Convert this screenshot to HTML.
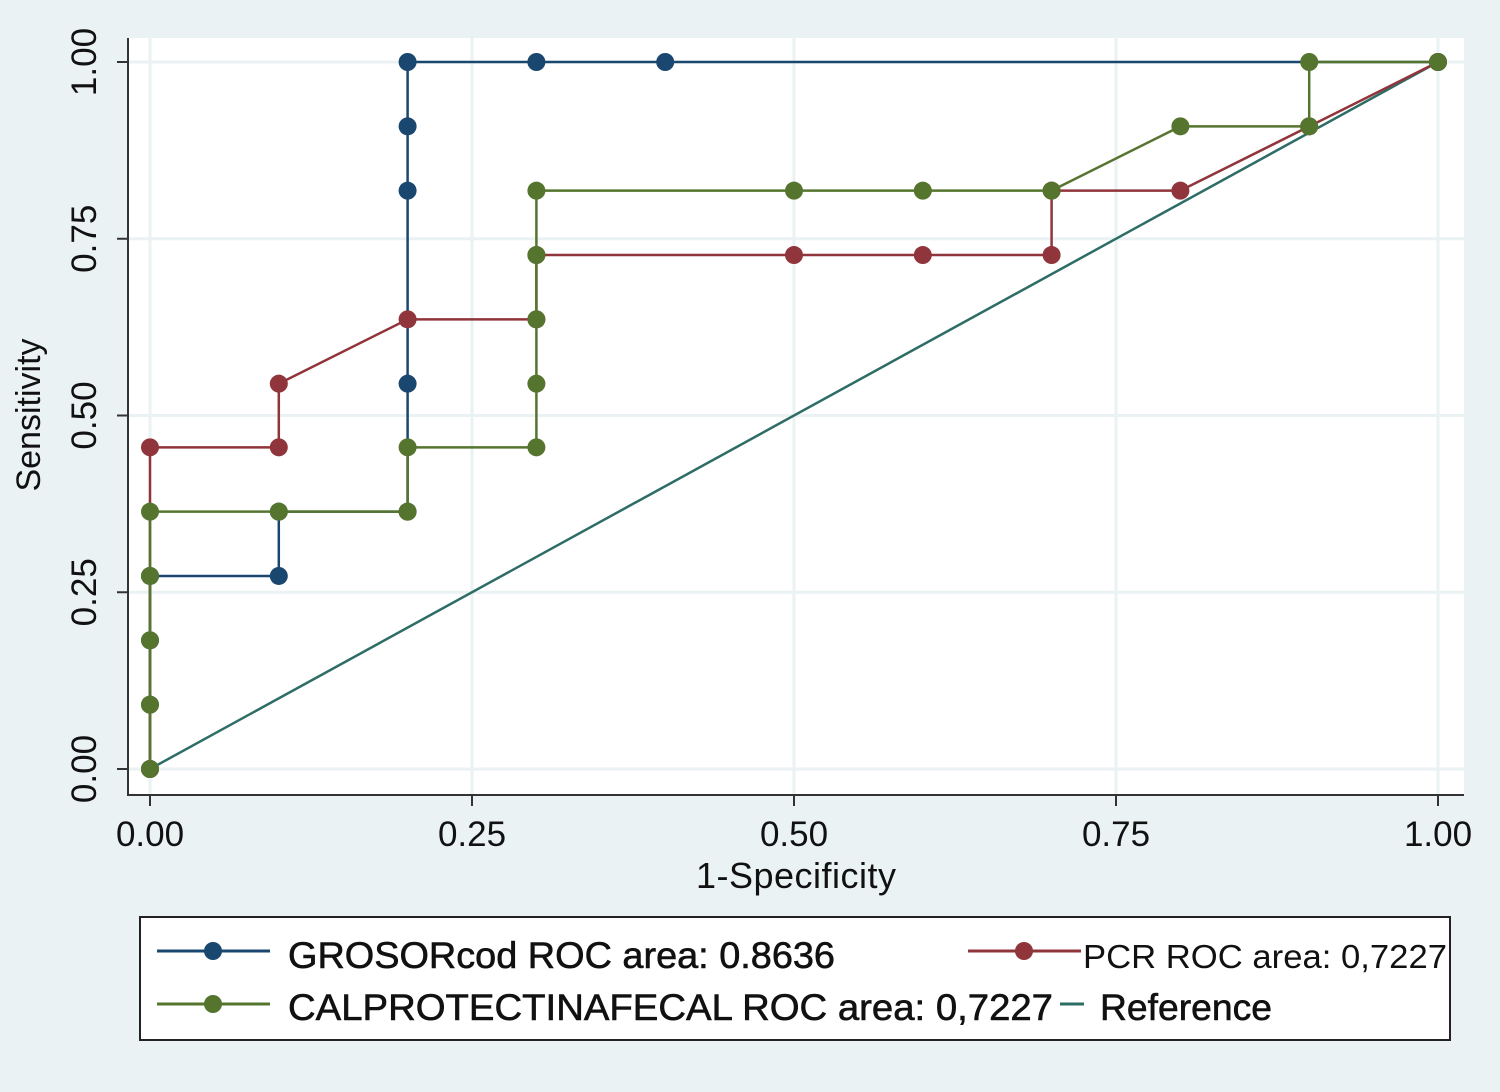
<!DOCTYPE html>
<html><head><meta charset="utf-8"><style>
body{margin:0;background:#eaf2f3;}
svg{display:block;font-family:"Liberation Sans",Arial,sans-serif;}
</style></head><body>
<svg id="chart" width="1500" height="1092" viewBox="0 0 1500 1092">
<rect x="0" y="0" width="1500" height="1092" fill="#eaf2f3"/>
<rect x="128" y="38" width="1336" height="757" fill="#ffffff"/>
<g id="grid"></g>
<g id="axes"></g>
<g id="series"></g>
<text x="796" y="888" font-size="36" text-anchor="middle" fill="#111" textLength="200">1-Specificity</text>
<text transform="translate(40,415) rotate(-90)" font-size="34" text-anchor="middle" fill="#111">Sensitivity</text>
<g>
<rect x="140" y="917" width="1310" height="123" fill="#fff" stroke="#222" stroke-width="2"/>
<g>
<line x1="157" y1="951" x2="270" y2="951" stroke="#1a476f" stroke-width="3"/><circle cx="213" cy="951" r="9" fill="#1a476f"/>
<text x="288" y="968" font-size="37" fill="#111" stroke="#111" stroke-width="0.6" textLength="547" lengthAdjust="spacingAndGlyphs">GROSORcod ROC area: 0.8636</text></g>
<g>
<line x1="968" y1="951" x2="1081" y2="951" stroke="#90353b" stroke-width="3"/><circle cx="1024" cy="951" r="9" fill="#90353b"/>
<text x="1083" y="968" font-size="33" fill="#111" textLength="364" lengthAdjust="spacingAndGlyphs">PCR ROC area: 0,7227</text></g>
<g>
<line x1="157" y1="1004" x2="270" y2="1004" stroke="#55752f" stroke-width="3"/><circle cx="213" cy="1004" r="9" fill="#55752f"/>
<text x="288" y="1020" font-size="37" fill="#111" stroke="#111" stroke-width="0.6" textLength="765" lengthAdjust="spacingAndGlyphs">CALPROTECTINAFECAL ROC area:  0,7227</text></g>
<g>
<line x1="1060" y1="1004" x2="1084" y2="1004" stroke="#2d6d66" stroke-width="3"/>
<text x="1100" y="1020" font-size="37" fill="#111" stroke="#111" stroke-width="0.6" textLength="172" lengthAdjust="spacingAndGlyphs">Reference</text></g>
</g>
</svg>
<script>
const xTicks=[0,0.25,0.5,0.75,1];
const xTickLabels=["0.00","0.25","0.50","0.75","1.00"];
const yTicks=[0,0.25,0.5,0.75,1];
const yTickLabels=["0.00","0.25","0.50","0.75","1.00"];
const grosorX=[0,0,0,0,0.1,0.1,0.2,0.2,0.2,0.2,0.2,0.3,0.4,1];
const grosorY=[0,0.091,0.182,0.273,0.273,0.364,0.364,0.545,0.818,0.909,1,1,1,1];
const pcrX=[0,0,0.1,0.1,0.2,0.3,0.3,0.5,0.6,0.7,0.7,0.8,0.9,1];
const pcrY=[0,0.455,0.455,0.545,0.636,0.636,0.727,0.727,0.727,0.727,0.818,0.818,0.909,1];
const calX=[0,0,0,0,0,0.1,0.2,0.2,0.3,0.3,0.3,0.3,0.3,0.5,0.6,0.7,0.8,0.9,0.9,1];
const calY=[0,0.091,0.182,0.273,0.364,0.364,0.364,0.455,0.455,0.545,0.636,0.727,0.818,0.818,0.818,0.818,0.909,0.909,1,1];
const refX=[0,1];
const refY=[0,1];
const NS="http://www.w3.org/2000/svg";
const sx=v=>150+v*(1438-150);
const sy=v=>769-v*(769-62);
function mk(tag,attrs,parent){const e=document.createElementNS(NS,tag);for(const k in attrs)e.setAttribute(k,attrs[k]);parent.appendChild(e);return e;}
const grid=document.getElementById('grid'),axes=document.getElementById('axes'),series=document.getElementById('series');
xTicks.forEach((t,i)=>{
 const g=mk('line',{x1:sx(t),x2:sx(t),y1:38,y2:795,stroke:'#eaf2f3','stroke-width':3},grid);
 
 
 const tk=mk('line',{x1:sx(t),x2:sx(t),y1:795,y2:806,stroke:'#333','stroke-width':2},axes);
 
 
 const tx=mk('text',{x:sx(t),y:846,'font-size':35,'text-anchor':'middle',fill:'#111'},axes);
 tx.textContent=xTickLabels[i];
 
 
});
yTicks.forEach((t,i)=>{
 const g=mk('line',{x1:128,x2:1464,y1:sy(t),y2:sy(t),stroke:'#eaf2f3','stroke-width':3},grid);
 
 
 const tk=mk('line',{x1:117,x2:128,y1:sy(t),y2:sy(t),stroke:'#333','stroke-width':2},axes);
 
 
 const tx=mk('text',{transform:`translate(96,${sy(t)}) rotate(-90)`,'font-size':35,'text-anchor':'middle',fill:'#111'},axes);
 tx.textContent=yTickLabels[i];
 
 
});
const ax=mk('path',{d:'M128 38 V795 H1464',fill:'none',stroke:'#333','stroke-width':2},axes);


const ref=mk('polyline',{points:refX.map((x,i)=>sx(x)+','+sy(refY[i])).join(' '),fill:'none',stroke:'#2d6d66','stroke-width':2.5},series);


function draw(xs,ys,color,name){
 const pl=mk('polyline',{points:xs.map((x,i)=>sx(x)+','+sy(ys[i])).join(' '),fill:'none',stroke:color,'stroke-width':2.5},series);
 
 
 xs.forEach((x,i)=>{
  const c=mk('circle',{cx:sx(x),cy:sy(ys[i]),r:9,fill:color},series);
  
  
 });
}
draw(grosorX,grosorY,'#1a476f','grosor');
draw(pcrX,pcrY,'#90353b','pcr');
draw(calX,calY,'#55752f','calprotectina');
</script>
</body></html>
